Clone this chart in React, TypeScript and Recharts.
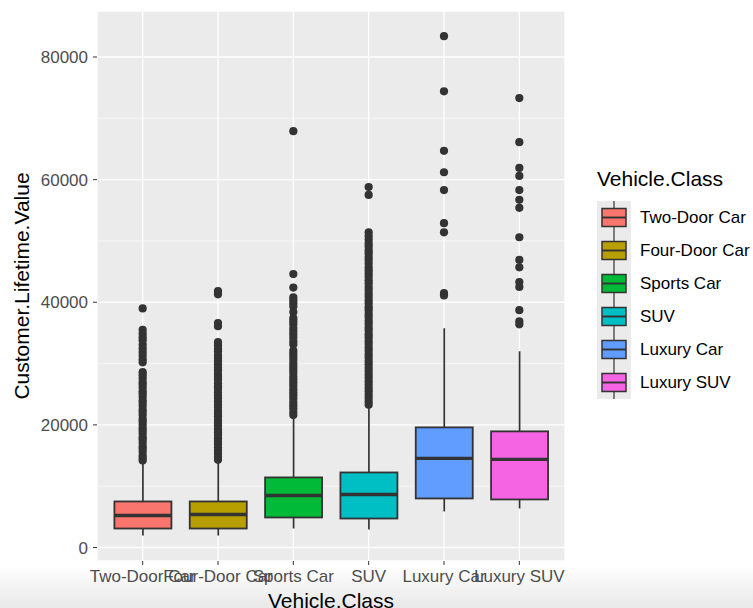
import { ComposedChart, Bar, Scatter, XAxis, YAxis, CartesianGrid, Cell } from "recharts";

const classes = ["Two-Door Car", "Four-Door Car", "Sports Car", "SUV", "Luxury Car", "Luxury SUV"];
const whiskerLow = [1960, 1960, 3100, 2940, 5880, 6370];
const q1 = [3100, 3100, 4900, 4730, 8000, 7840];
const median = [5220, 5390, 8490, 8650, 14530, 14370];
const q3 = [7510, 7510, 11430, 12240, 19590, 18940];
const whiskerHigh = [14100, 14150, 21230, 22860, 35760, 32000];

const outTwoDoor = [
  39000, 35500, 34900, 34300, 33800, 33100, 32500, 31900, 31300, 30700, 30200,
  28600, 28100, 27600, 27000, 26600, 26100, 25500, 25100, 24600, 24000, 23600,
  23100, 22500, 22100, 21600, 21000, 20600, 20100, 19500, 19100, 18600, 18000,
  17600, 17100, 16500, 16100, 15600, 15000, 14600, 14200,
];
const outFourDoor = [
  41800, 41300, 36600, 36100, 33500, 33000, 32400, 32000, 31400, 30900, 30400,
  29900, 29300, 28900, 28300, 27800, 27400, 26800, 26300, 25900, 25300, 24800,
  24400, 23800, 23300, 22900, 22300, 21800, 21400, 20800, 20300, 19900, 19300,
  18800, 18400, 17800, 17300, 16900, 16300, 15800, 15300, 14800, 14300,
];
const outSports = [
  67900, 44600, 42400, 40800, 40300, 39800, 39300, 38400, 37400, 36900, 36400,
  35800, 35300, 34800, 34200, 33600, 33100, 32100, 31600, 31100, 30600, 30000,
  29500, 29000, 28500, 27900, 27400, 26900, 26400, 25800, 25300, 24800, 24300,
  23700, 23200, 22700, 22100, 21600,
];
const outSUV = [
  58800, 57500, 51400, 50800, 50200, 49600, 49100, 48500, 48000, 47400, 46900,
  46300, 45700, 45200, 44700, 44200, 43600, 43100, 42500, 42000, 41400, 40900,
  40300, 39800, 39200, 38700, 38100, 37600, 37000, 36500, 35900, 35400, 34800,
  34300, 33700, 33200, 32600, 32100, 31500, 31000, 30400, 29900, 29300, 28800,
  28200, 27700, 27100, 26600, 26000, 25500, 24900, 24400, 23800, 23300,
];
const outLuxuryCar = [83400, 74400, 64700, 61200, 58300, 52900, 51400, 41500, 41100];
const outLuxurySUV = [
  73300, 66100, 61900, 60600, 58300, 56700, 55400, 50600, 46900, 45700, 43300,
  42500, 38700, 36900, 36400,
];
const outliersByClass = [outTwoDoor, outFourDoor, outSports, outSUV, outLuxuryCar, outLuxurySUV];

const yTicks = [0, 20000, 40000, 60000, 80000];
const yMinor = [10000, 30000, 50000, 70000];

const palette = ["#F8766D", "#B79F00", "#00BA38", "#00BFC4", "#619CFF", "#F564E3"];

const boxes = classes.map((cls, i) => ({
  cls,
  lo: whiskerLow[i],
  q1: q1[i],
  median: median[i],
  q3: q3[i],
  hi: whiskerHigh[i],
}));

const outliers = classes.flatMap((cls, i) => outliersByClass[i].map((v) => ({ cls, v })));

const INK = "#333333";

function BoxShape(props: any) {
  const { x, y, width, height, payload, fill } = props;
  const ppu = height / (payload.q3 - payload.q1);
  const bottom = y + height;
  const cx = x + width / 2;
  const yMed = bottom - (payload.median - payload.q1) * ppu;
  const yHi = y - (payload.hi - payload.q3) * ppu;
  const yLo = bottom + (payload.q1 - payload.lo) * ppu;
  return (
    <g>
      <line x1={cx} x2={cx} y1={yHi} y2={y} stroke={INK} strokeWidth={1.7} />
      <line x1={cx} x2={cx} y1={bottom} y2={yLo} stroke={INK} strokeWidth={1.7} />
      <rect x={x} y={y} width={width} height={height} fill={fill} stroke={INK} strokeWidth={1.8} />
      <line x1={x} x2={x + width} y1={yMed} y2={yMed} stroke={INK} strokeWidth={3.4} />
    </g>
  );
}

function Dot(props: any) {
  return <circle cx={props.cx} cy={props.cy} r={4.1} fill={INK} />;
}

function LegendKey({ color }: { color: string }) {
  return (
    <svg width={34} height={33} style={{ display: "block" }}>
      <rect x={0} y={0} width={34} height={33} fill="#ebebeb" />
      <line x1={17} x2={17} y1={0} y2={33} stroke={INK} strokeWidth={1.2} />
      <rect x={5} y={7.5} width={24} height={18} fill={color} stroke={INK} strokeWidth={1.5} />
      <line x1={5} x2={29} y1={16.5} y2={16.5} stroke={INK} strokeWidth={1.9} />
    </svg>
  );
}

export default function App() {
  return (
    <div
      style={{
        position: "absolute",
        left: 0,
        top: 0,
        width: 753,
        height: 608,
        background: "#fff",
        fontFamily: "'Liberation Sans', Arial, sans-serif",
      }}
    >
      <div
        style={{
          position: "absolute",
          left: 0,
          top: 566,
          width: 753,
          height: 42,
          background: "linear-gradient(to bottom, rgba(0,0,0,0), rgba(0,0,0,0.09))",
        }}
      />
      <div style={{ position: "absolute", left: 0, top: 0 }}>
        <ComposedChart
          width={753}
          height={608}
          data={boxes}
          margin={{ top: 11, right: 188, bottom: 0, left: 0 }}
          barCategoryGap="12.5%"
        >
          <CartesianGrid
            fill="#ebebeb"
            stroke="#ffffff"
            strokeWidth={0.6}
            vertical={false}
            horizontalValues={yMinor}
          />
          <CartesianGrid fill="none" stroke="#ffffff" strokeWidth={1.3} />
          <XAxis
            dataKey="cls"
            type="category"
            allowDuplicatedCategory={false}
            interval={0}
            height={47}
            padding={{ left: 8, right: 8 }}
            axisLine={false}
            tickLine={{ stroke: INK }}
            tickSize={4}
            tickMargin={5}
            tick={{ fill: "#4d4d4d", fontSize: 17 }}
            label={{
              value: "Vehicle.Class",
              position: "insideBottom",
              offset: 0,
              fill: "#000",
              fontSize: 21,
            }}
          />
          <YAxis
            type="number"
            domain={[-2200, 87500]}
            ticks={yTicks}
            width={97}
            axisLine={false}
            tickLine={{ stroke: INK }}
            tickSize={4}
            tickMargin={5}
            tick={{ fill: "#4d4d4d", fontSize: 17 }}
            allowDataOverflow
            label={{
              value: "Customer.Lifetime.Value",
              angle: -90,
              position: "insideLeft",
              offset: 22,
              fill: "#000",
              fontSize: 21,
              style: { textAnchor: "middle" },
            }}
          />
          <Bar dataKey={(d: any) => [d.q1, d.q3]} shape={<BoxShape />} isAnimationActive={false}>
            {boxes.map((b, i) => (
              <Cell key={b.cls} fill={palette[i]} />
            ))}
          </Bar>
          <Scatter data={outliers} dataKey="v" shape={<Dot />} isAnimationActive={false} />
        </ComposedChart>
      </div>
      <div style={{ position: "absolute", left: 597, top: 166 }}>
        <div style={{ fontSize: 21, color: "#000", lineHeight: "26px", marginBottom: 9 }}>Vehicle.Class</div>
        {classes.map((cls, i) => (
          <div key={cls} style={{ display: "flex", alignItems: "center", height: 33 }}>
            <LegendKey color={palette[i]} />
            <span style={{ fontSize: 17, color: "#000", marginLeft: 9 }}>{cls}</span>
          </div>
        ))}
      </div>
    </div>
  );
}
